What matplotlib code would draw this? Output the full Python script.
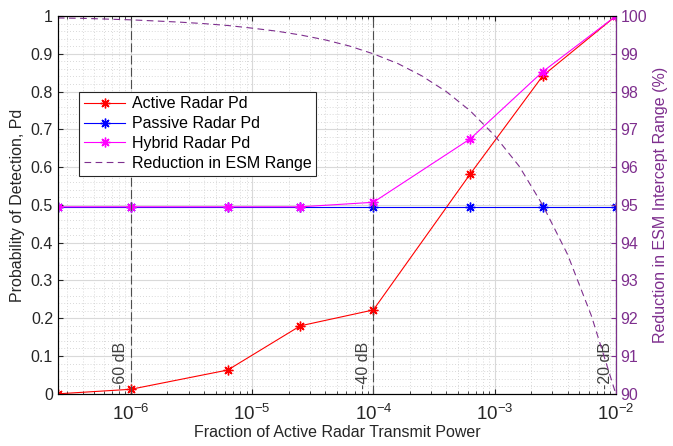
import numpy as np
import matplotlib.pyplot as plt
from matplotlib.ticker import AutoMinorLocator, LogLocator, NullFormatter

plt.rcParams['font.family'] = ['Liberation Sans', 'DejaVu Sans']
plt.rcParams['mathtext.fontset'] = 'custom'
plt.rcParams['mathtext.rm'] = 'Liberation Sans'
plt.rcParams['mathtext.it'] = 'Liberation Sans:italic'
plt.rcParams['mathtext.bf'] = 'Liberation Sans:bold'

# transmit power fractions (-66 ... -20 dB)
power = [2.5e-7, 1e-6, 6.3e-6, 2.5e-5, 1e-4, 6.3e-4, 2.5e-3, 1e-2]
active_pd = [0.0, 0.012, 0.063, 0.18, 0.222, 0.582, 0.842, 1.0]
passive_pd = [0.495, 0.495, 0.495, 0.495, 0.495, 0.495, 0.495, 0.495]
hybrid_pd = [0.495, 0.495, 0.495, 0.495, 0.507, 0.675, 0.853, 1.0]

# ESM intercept range reduction curve
esm_power = [2.5e-7, 4e-7, 6.3e-7, 1e-6, 1.6e-6, 2.5e-6, 4e-6, 6.3e-6, 1e-5,
             1.6e-5, 2.5e-5, 4e-5, 6.3e-5, 1e-4, 1.6e-4, 2.5e-4, 4e-4, 6.3e-4,
             1e-3, 1.6e-3, 2.5e-3, 4e-3, 6.3e-3, 1e-2]
esm_reduction = [99.95, 99.94, 99.92, 99.90, 99.87, 99.84, 99.80, 99.75, 99.68,
                 99.60, 99.50, 99.37, 99.21, 99.00, 98.74, 98.42, 98.00, 97.49,
                 96.84, 96.02, 94.99, 93.69, 92.06, 90.00]

db_marks = [1e-6, 1e-4, 1e-2]
db_labels = ["-60 dB", "-40 dB", "-20 dB"]

x_ticks = [1e-6, 1e-5, 1e-4, 1e-3, 1e-2]
x_ticklabels = ['$10^{-6}$', '$10^{-5}$', '$10^{-4}$', '$10^{-3}$', '$10^{-2}$']

purple = (0.494, 0.184, 0.556)
dark = (0.15, 0.15, 0.15)
fs = 11.5
star = (8, 2, 0)  # asterisk marker

fig = plt.figure(figsize=(6.73, 4.46), dpi=100)
ax = fig.add_axes([0.086, 0.117, 0.829, 0.847])

l1, = ax.plot(power, active_pd, color='red', marker=star, markersize=7, lw=0.8,
              label='Active Radar Pd')
l2, = ax.plot(power, passive_pd, color='blue', marker=star, markersize=7, lw=0.8,
              label='Passive Radar Pd')
l3, = ax.plot(power, hybrid_pd, color='magenta', marker=star, markersize=7, lw=0.8,
              label='Hybrid Radar Pd')

for xm, lab in zip(db_marks, db_labels):
    ax.axvline(xm, color=(0.3, 0.3, 0.3), ls=(0, (8, 3)), lw=0.8)
    ax.text(xm / 1.05, 0.012, lab, rotation=90, ha='right', va='bottom',
            fontsize=fs, color=(0.25, 0.25, 0.25))

ax.set_xscale('log')
ax.set_xlim(2.5e-7, 1e-2)
ax.set_ylim(0, 1)
ax.set_yticks(np.arange(0, 1.01, 0.1))
ax.set_yticklabels(['0', '0.1', '0.2', '0.3', '0.4', '0.5', '0.6', '0.7', '0.8', '0.9', '1'])
ax.set_xticks(x_ticks)
ax.set_xticklabels(x_ticklabels, fontsize=13.5)
ax.xaxis.set_minor_locator(LogLocator(base=10, subs=np.arange(2, 10), numticks=20))
ax.xaxis.set_minor_formatter(NullFormatter())
ax.yaxis.set_minor_locator(AutoMinorLocator(5))
ax.grid(which='major', color=(0.85, 0.85, 0.85), lw=0.8)
ax.grid(which='minor', color=(0.8, 0.8, 0.8), ls=(0, (1, 2.5)), lw=0.6)
ax.tick_params(which='both', direction='in', top=True, right=False, colors=dark)
ax.tick_params(axis='y', which='major', labelsize=fs)
ax.tick_params(axis='x', which='major', pad=7)
ax.tick_params(axis='y', which='minor', length=0)
ax.set_xlabel('Fraction of Active Radar Transmit Power', fontsize=fs, color=dark, labelpad=1)
ax.set_ylabel('Probability of Detection, Pd', fontsize=fs, color=dark)
for s in ['left', 'bottom', 'top']:
    ax.spines[s].set_color(dark)

ax2 = ax.twinx()
l4, = ax2.plot(esm_power, esm_reduction, color=purple, ls=(0, (6, 4)), lw=0.8,
               label='Reduction in ESM Range')
ax2.set_ylim(90, 100)
ax2.set_yticks(np.arange(90, 100.1, 1))
ax2.tick_params(axis='y', direction='in', colors=purple, labelsize=fs)
ax2.spines['right'].set_color(purple)
ax2.set_ylabel('Reduction in ESM Intercept Range (%)', fontsize=fs, color=purple)

leg = ax2.legend(handles=[l1, l2, l3, l4], loc='upper left', bbox_to_anchor=(0.038, 0.80),
                 fontsize=fs, frameon=True, fancybox=False, edgecolor=dark, framealpha=1,
                 handlelength=2.6, borderpad=0.3, labelspacing=0.3, handletextpad=0.4,
                 borderaxespad=0)
leg.get_frame().set_linewidth(0.8)

fig.savefig('out.png', dpi=100)
